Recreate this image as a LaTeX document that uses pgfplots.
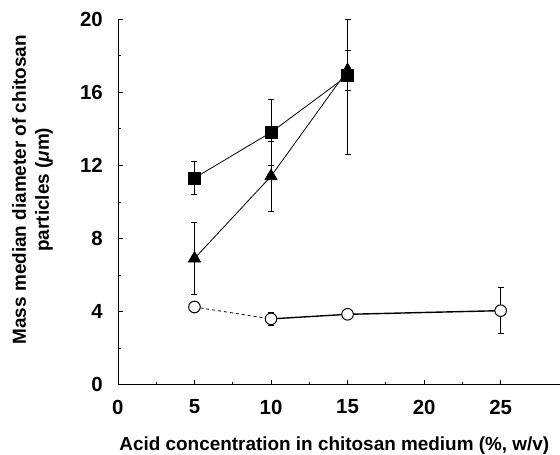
\documentclass[border=0pt]{standalone}
\usepackage{fontspec}
\setmainfont{Liberation Sans}
\usepackage{pgfplots}
\pgfplotsset{compat=1.18}
\begin{document}
\begin{tikzpicture}
\begin{axis}[
  scale only axis, width=442bp, height=366bp,
  xmin=0, xmax=28.85, ymin=0, ymax=20,
  axis lines=left, axis line style={-, line width=0.8bp},
  xtick={0,5,...,25}, ytick={0,4,...,20},
  minor x tick num=1, minor y tick num=1,
  tick align=inside, major tick length=5bp, minor tick length=3bp,
  tick style={line width=0.7bp, black},
  /pgf/number format/assume math mode=true,
  tick label style={font=\fontsize{20.5}{24}\selectfont\bfseries, inner sep=0pt},
  yticklabel style={anchor=east, xshift=-15bp},
  xticklabel style={anchor=north, yshift=-15bp},
  label style={font=\fontsize{19}{23}\selectfont\bfseries},
  xlabel={Acid concentration in chitosan medium (\%, w/v)},
  xlabel style={at={(axis description cs:0.49,0)}, anchor=north, yshift=-52bp, inner sep=0pt},
  ylabel={Mass median diameter of chitosan\\particles ({\itshape μ}m)},
  ylabel style={align=center, at={(axis description cs:-0.147,0.533)}, anchor=south, inner sep=0pt},
  clip=false,
]
% circles: dashed segment
\addplot[black, dashed, line width=0.8bp, forget plot] coordinates {(5,4.25) (10,3.6)};
% squares
\addplot[black, line width=0.8bp, mark=square*, mark size=6bp, mark options={solid, fill=black},
  error bars/.cd, y dir=both, y explicit, error bar style={line width=0.9bp}, error mark options={rotate=90, mark size=3bp, line width=0.9bp}]
  table[x=x, y=y, y error plus=ep, y error minus=em] {
x y ep em
5 11.3 0.9 0.9
10 13.8 1.8 1.8
15 16.9 3.1 4.3
};
% triangles
\addplot[black, line width=0.8bp, mark=triangle*, mark size=7bp, mark options={solid, fill=black},
  error bars/.cd, y dir=both, y explicit, error bar style={line width=0.9bp}, error mark options={rotate=90, mark size=3bp, line width=0.9bp}]
  table[x=x, y=y, y error plus=ep, y error minus=em] {
x y ep em
5 6.9 1.95 1.95
10 11.4 1.9 1.9
15 17.2 1.1 1.1
};
% circles: solid segment
\addplot[black, line width=1.4bp, mark=*, mark size=5.8bp, mark options={solid, fill=white, line width=1bp},
  error bars/.cd, y dir=both, y explicit, error bar style={line width=0.9bp}, error mark options={rotate=90, mark size=3bp, line width=0.9bp}]
  table[x=x, y=y, y error plus=ep, y error minus=em] {
x y ep em
10 3.6 0.35 0.35
15 3.85 0 0
25 4.05 1.25 1.25
};
\addplot[only marks, black, mark=*, mark size=5.8bp, mark options={solid, fill=white, line width=1bp}]
  coordinates {(5,4.25)};
\end{axis}
\path (-118bp,-66bp) rectangle (442bp,385bp);
\end{tikzpicture}
\end{document}
